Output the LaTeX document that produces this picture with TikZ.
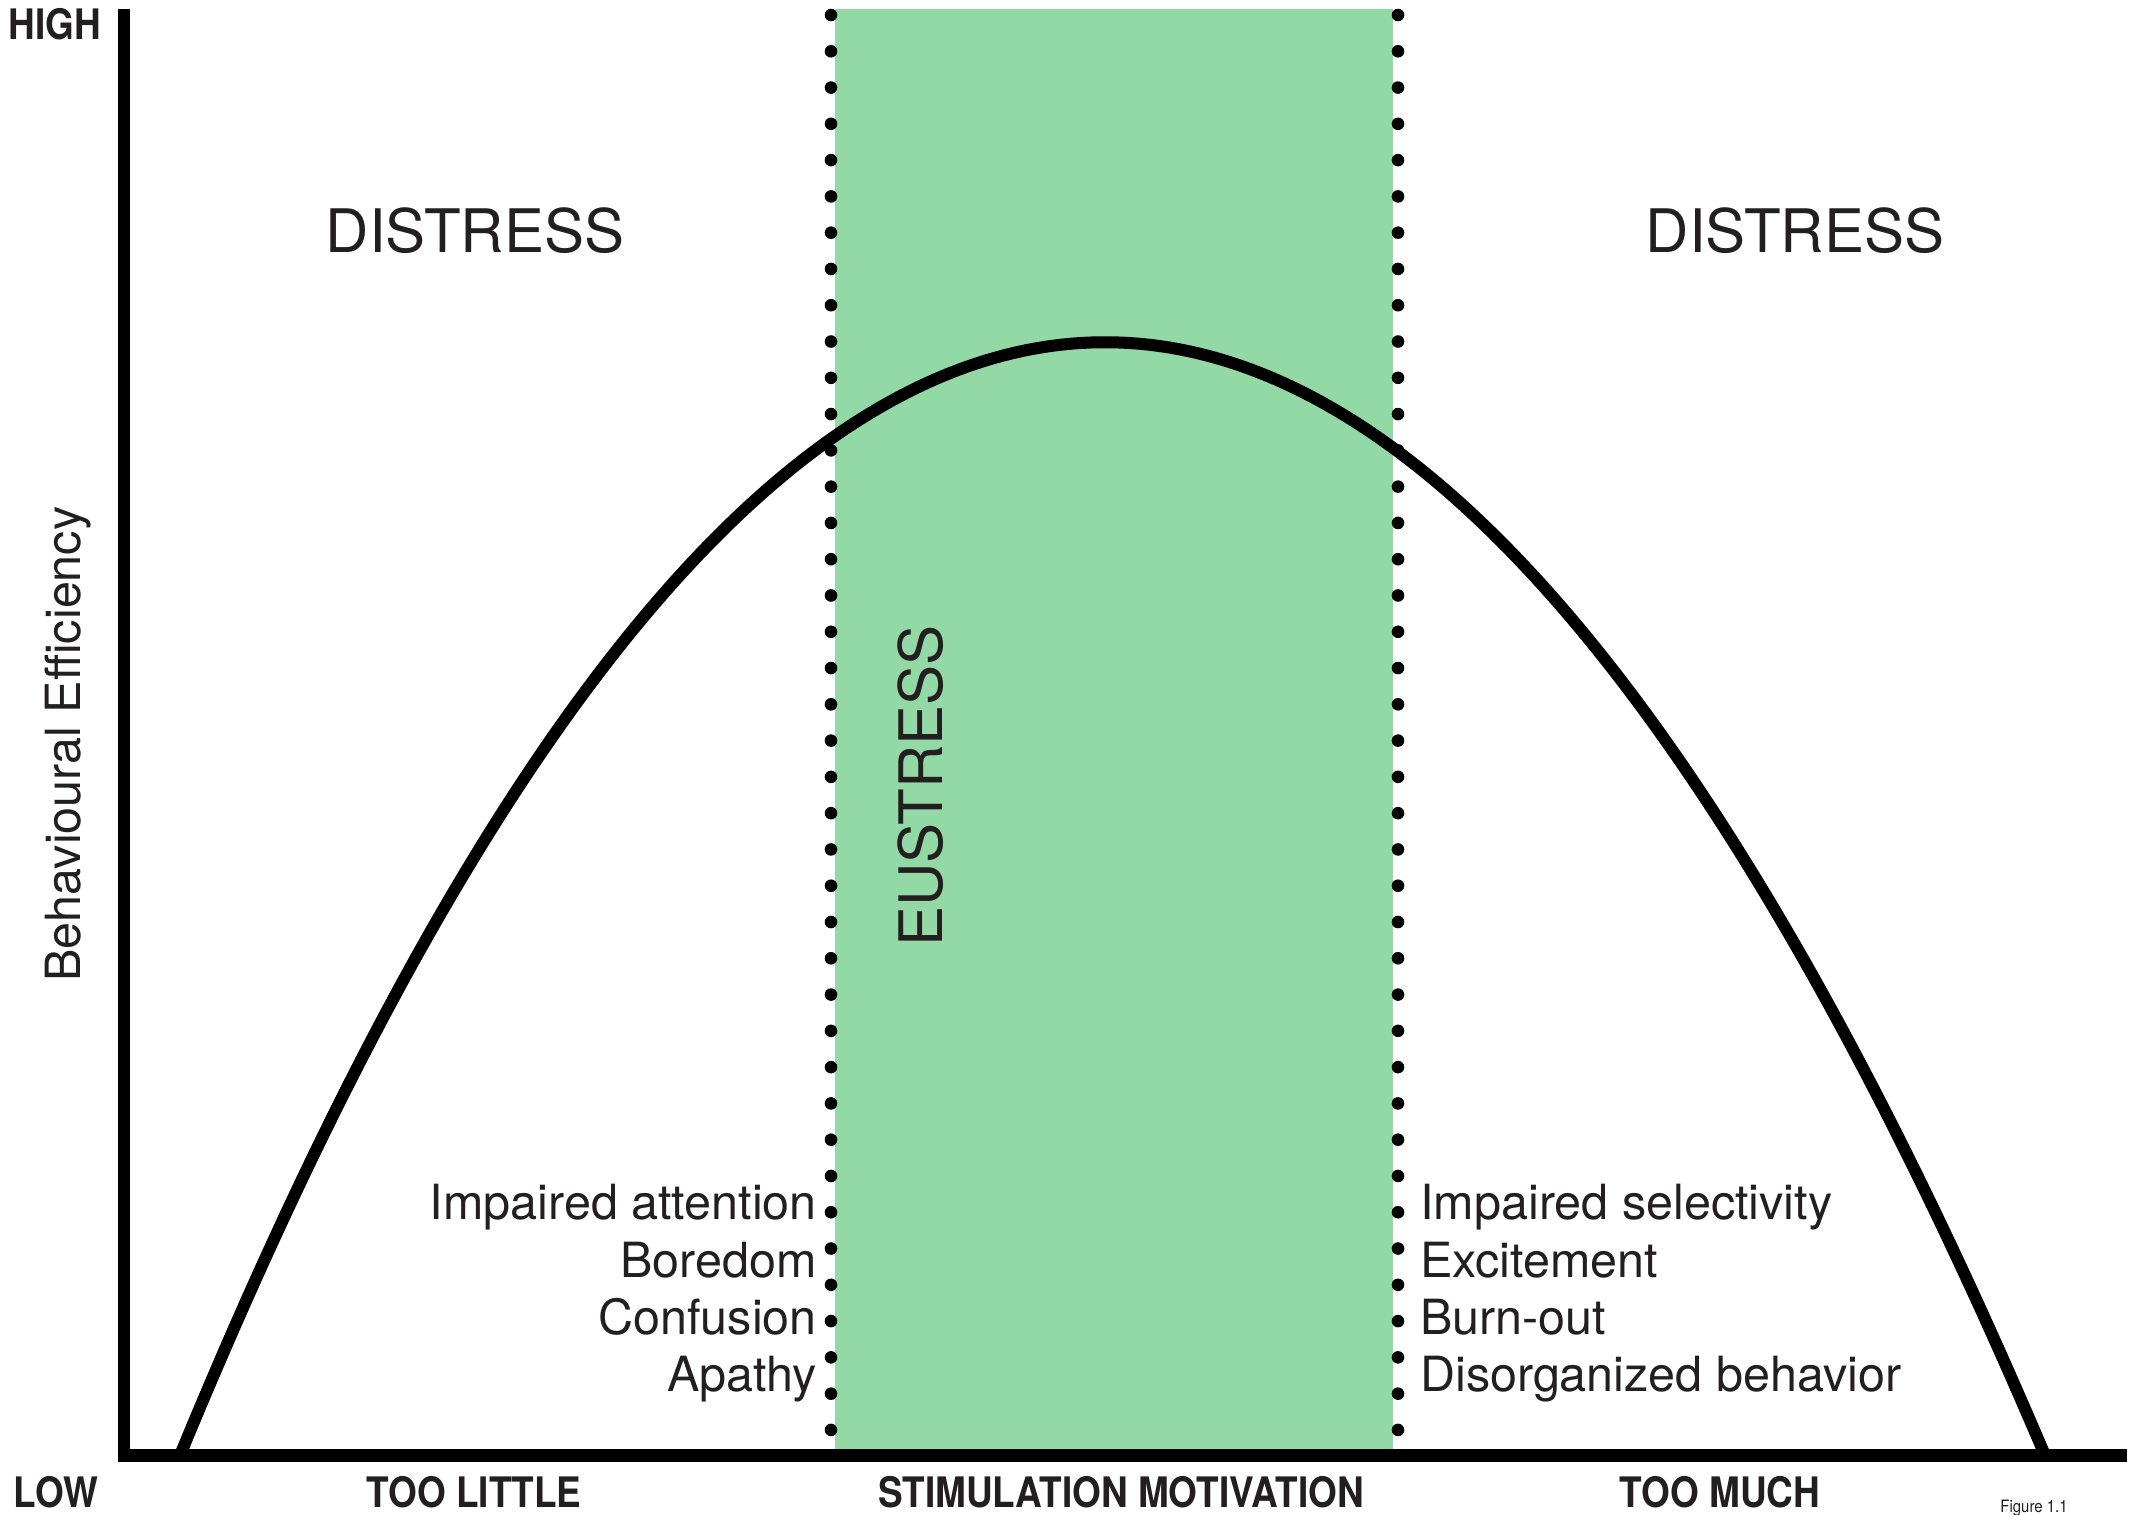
\documentclass[tikz,border=0pt]{standalone}
\usepackage{fontspec}
\setmainfont{TeX Gyre Heros}
\newfontfamily\condfont[FakeStretch=0.88]{TeX Gyre Heros}
\definecolor{eugreen}{RGB}{146,217,165}
\definecolor{ink}{RGB}{35,31,32}
\begin{document}
\begin{tikzpicture}[x=1pt,y=-1pt,
  txt/.style={inner sep=0pt,text=ink},
  big/.style={txt,font=\fontsize{60}{72}\selectfont},
  item/.style={txt,font=\fontsize{48.5}{58}\selectfont},
  axislbl/.style={txt,font=\condfont\bfseries\fontsize{42}{50}\selectfont},
  smalllbl/.style={txt,font=\condfont\fontsize{17}{20}\selectfont},
  dotmark/.style={fill=black},
  curveline/.style={line width=12pt,line cap=butt},
  axisline/.style={line width=12.5pt,line cap=butt,line join=miter}]
\useasboundingbox (0,0) rectangle (2134,1515);
\fill[white] (0,0) rectangle (2134,1515);
% green zone
\fill[eugreen] (835,9) rectangle (1393,1449);
% curve
\coordinate (cstart) at (181,1453);
\coordinate (cend) at (2044,1453);
\draw[curveline] (cstart) .. controls (792,-28) and (1413,-28) .. (cend);
% dotted borders
\foreach \i in {0,...,39}{
  \fill[dotmark] (831,15+\i*36.28) circle (6.3);
  \fill[dotmark] (1398,15+\i*36.28) circle (6.3);
}
% axes
\coordinate (ytop) at (124,9);
\coordinate (origin) at (124,1455.5);
\coordinate (xend) at (2127,1455.5);
\draw[axisline] (ytop) -- (origin) -- (xend);
% axis labels
\node[axislbl,anchor=base] (high) at (55,39) {HIGH};
\node[axislbl,anchor=base] (low) at (56,1507) {LOW};
\node[axislbl,anchor=base] (toolittle) at (474,1507) {TOO LITTLE};
\node[axislbl,anchor=base] (stim) at (1121,1507) {STIMULATION MOTIVATION};
\node[axislbl,anchor=base] (toomuch) at (1720,1507) {TOO MUCH};
\node[smalllbl,anchor=base] (fig) at (2034,1512) {Figure 1.1};
\node[item,anchor=base,rotate=90] (ylabel) at (80,744) {Behavioural Efficiency};
% zone labels
\node[big,anchor=base] (distressL) at (475,252) {DISTRESS};
\node[big,anchor=base] (distressR) at (1795,252) {DISTRESS};
\node[big,anchor=base,rotate=90] (eustress) at (942,786) {EUSTRESS};
% left list
\node[item,anchor=base east] (l1) at (817,1219) {Impaired attention};
\node[item,anchor=base east] (l2) at (817,1277) {Boredom};
\node[item,anchor=base east] (l3) at (817,1334) {Confusion};
\node[item,anchor=base east] (l4) at (817,1391) {Apathy};
% right list
\node[item,anchor=base west] (r1) at (1420,1219) {Impaired selectivity};
\node[item,anchor=base west] (r2) at (1420,1277) {Excitement};
\node[item,anchor=base west] (r3) at (1420,1334) {Burn-out};
\node[item,anchor=base west] (r4) at (1420,1391) {Disorganized behavior};
\end{tikzpicture}
\end{document}
